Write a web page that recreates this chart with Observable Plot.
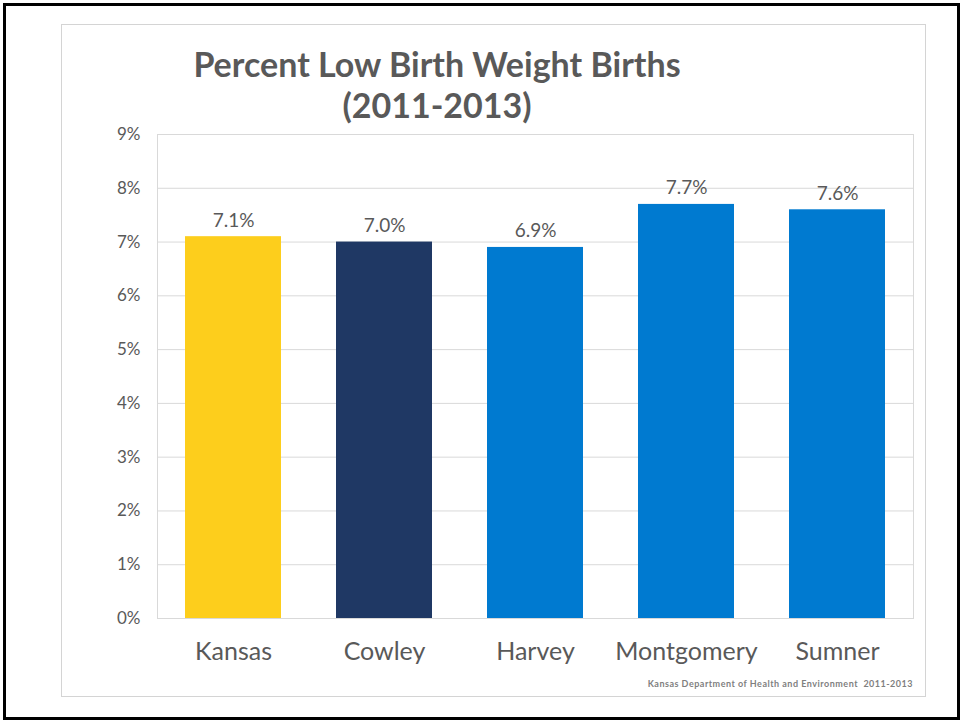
<!DOCTYPE html>
<html><head><meta charset="utf-8">
<script src="https://cdn.jsdelivr.net/npm/d3@7"></script>
<script src="https://cdn.jsdelivr.net/npm/@observablehq/plot@0.6"></script>
<style>
body{margin:0;background:#fff;}
#page{position:relative;width:961px;height:721px;overflow:hidden;font-family:Lato,"Open Sans",sans-serif;}
#outer{position:absolute;left:3px;top:3px;width:957px;height:717px;box-sizing:border-box;border:3px solid #000;}
#inner{position:absolute;left:61px;top:24px;width:865px;height:673px;box-sizing:border-box;border:1px solid #d4d4d4;}
#title{position:absolute;left:137px;width:600px;top:43px;text-align:center;font-weight:700;font-size:34px;line-height:41px;color:#595959;}
#chart{position:absolute;left:0;top:120px;}
#caption{position:absolute;right:48px;top:679px;font-size:9px;line-height:9px;font-weight:700;color:#7f7f7f;letter-spacing:0.5px;}
</style>
</head><body>
<div id="page">
  <div id="outer"></div>
  <div id="inner"></div>
  <div id="title">Percent Low Birth Weight Births<br>(2011-2013)</div>
  <div id="chart"></div>
  <div id="caption">Kansas Department of Health and Environment&nbsp; 2011-2013</div>
</div>
<script>
const categories = ["Kansas", "Cowley", "Harvey", "Montgomery", "Sumner"];
const values = [7.1, 7.0, 6.9, 7.7, 7.6];
const barColors = ["#FDCE1C", "#1F3864", "#007AD0", "#007AD0", "#007AD0"];
const yTicks = [0, 1, 2, 3, 4, 5, 6, 7, 8, 9];

const data = categories.map((c, i) => ({name: c, value: values[i], color: barColors[i]}));

const chart = Plot.plot({
  width: 961,
  height: 560,
  marginLeft: 157,
  marginRight: 48,
  marginTop: 14,
  marginBottom: 62,
  style: {color: "#595959", fontFamily: "Lato, 'Open Sans', sans-serif", background: "transparent"},
  x: {domain: categories, paddingInner: 0.365, paddingOuter: 0.1825},
  y: {domain: [0, 9]},
  color: {type: "identity"},
  marks: [
    Plot.ruleY(yTicks, {stroke: "#d9d9d9", strokeWidth: 1}),
    Plot.frame({stroke: "#d9d9d9"}),
    Plot.barY(data, {x: "name", y: "value", fill: "color"}),
    Plot.text(data, {x: "name", y: "value", text: d => d.value.toFixed(1) + "%", dy: -10, lineAnchor: "bottom", fontSize: 19, fill: "#595959"}),
    Plot.axisX({tickSize: 0, tickPadding: 24, fontSize: 25, label: null}),
    Plot.axisY({ticks: yTicks, tickSize: 0, tickPadding: 17, fontSize: 17, label: null, tickFormat: d => d + "%"})
  ]
});
document.getElementById("chart").appendChild(chart);
</script>
</body></html>
